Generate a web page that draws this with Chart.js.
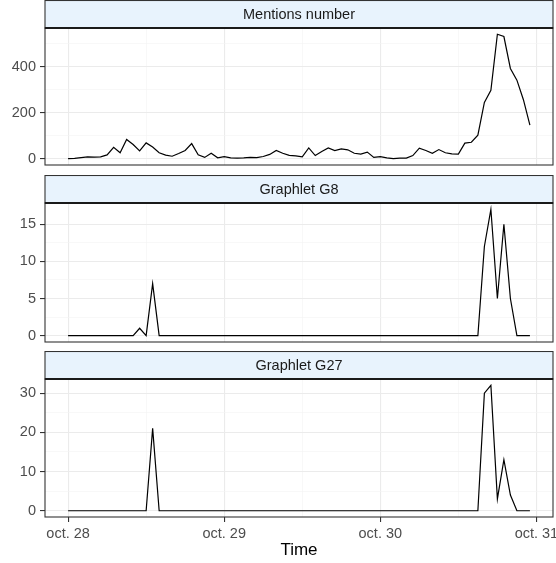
<!DOCTYPE html>
<html>
<head>
<meta charset="utf-8">
<script src="https://cdn.jsdelivr.net/npm/chart.js@4/dist/chart.umd.min.js"></script>
<style>
  html, body { margin: 0; padding: 0; background: #fff; }
  #wrap { position: relative; width: 556px; height: 563px; }
  canvas { position: absolute; left: 0; }
</style>
</head>
<body>
<div id="wrap">
  <canvas id="c1" width="556" height="168" style="top:0px"></canvas>
  <canvas id="c2" width="556" height="169" style="top:175px"></canvas>
  <canvas id="c3" width="556" height="212" style="top:351px"></canvas>
</div>
<script>
// hourly values, starting oct. 28 00:00
const mentions = [1, 2, 5, 8, 7, 8, 17, 50, 26, 84, 62, 34, 69, 51, 26, 16, 11, 23, 36, 66, 17, 6, 24, 4, 9,
  4, 3, 4, 6, 5, 10, 19, 36, 24, 15, 13, 8, 47, 14, 32, 47, 36, 43, 39, 24, 20, 29, 6,
  9, 4, 1, 3, 3, 14, 46, 36, 24, 40, 26, 21, 20, 68, 72, 103, 245, 298, 542, 532, 393, 342, 257, 146];
const graphletG8 = [0, 0, 0, 0, 0, 0, 0, 0, 0, 0, 0, 1, 0, 7, 0, 0, 0, 0, 0, 0, 0, 0, 0, 0,
  0, 0, 0, 0, 0, 0, 0, 0, 0, 0, 0, 0, 0, 0, 0, 0, 0, 0, 0, 0, 0, 0, 0, 0,
  0, 0, 0, 0, 0, 0, 0, 0, 0, 0, 0, 0, 0, 0, 0, 0, 12, 17, 5, 15, 5, 0, 0, 0];
const graphletG27 = [0, 0, 0, 0, 0, 0, 0, 0, 0, 0, 0, 0, 0, 21, 0, 0, 0, 0, 0, 0, 0, 0, 0, 0,
  0, 0, 0, 0, 0, 0, 0, 0, 0, 0, 0, 0, 0, 0, 0, 0, 0, 0, 0, 0, 0, 0, 0, 0,
  0, 0, 0, 0, 0, 0, 0, 0, 0, 0, 0, 0, 0, 0, 0, 0, 30, 32, 3, 13, 4, 0, 0, 0];

const stripTitles = ["Mentions number", "Graphlet G8", "Graphlet G27"];

// x axis in hours since oct. 28
const dayTicks = [0, 24, 48, 72];
const dayLabels = ["oct. 28", "oct. 29", "oct. 30", "oct. 31"];
const halfDayTicks = [12, 36, 60];

const yMajor = [[0, 200, 400], [0, 5, 10, 15], [0, 10, 20, 30]];
const yMinor = [[100, 300, 500], [2.5, 7.5, 12.5], [5, 15, 25]];
const yRange = [[-27.1, 569.1], [-0.85, 17.85], [-1.6, 33.6]];

const FONT = "'Liberation Sans', Arial, sans-serif";

function setTicks(scale, major, minor) {
  const t = major.map(v => ({ value: v, major: true }))
    .concat(minor.map(v => ({ value: v, major: false })));
  t.sort((a, b) => a.value - b.value);
  scale.ticks = t;
}

const stripPlugin = {
  id: 'strip',
  afterDraw(chart, args, opts) {
    const { ctx, chartArea } = chart;
    const l = chartArea.left, r = chartArea.right;
    ctx.save();
    // strip
    ctx.fillStyle = '#E8F3FD';
    ctx.fillRect(l, 0.5, r - l, chartArea.top - 0.5);
    ctx.strokeStyle = '#333333';
    ctx.lineWidth = 1.1;
    ctx.strokeRect(l, 0.5, r - l, chartArea.top - 0.5);
    ctx.fillStyle = '#1A1A1A';
    ctx.font = '14.5px ' + FONT;
    ctx.textAlign = 'center';
    ctx.textBaseline = 'middle';
    ctx.fillText(opts.title, (l + r) / 2, chartArea.top / 2 + 1);
    // panel border
    ctx.strokeStyle = '#333333';
    ctx.lineWidth = 1.1;
    ctx.strokeRect(l, chartArea.top, r - l, chartArea.bottom - chartArea.top);
    ctx.beginPath();
    ctx.lineWidth = 2;
    ctx.strokeStyle = '#1A1A1A';
    ctx.moveTo(l, chartArea.top);
    ctx.lineTo(r, chartArea.top);
    ctx.stroke();
    ctx.restore();
  }
};

function makePanel(id, idx, values, bottom) {
  const pts = values.map((v, i) => ({ x: i, y: v }));
  new Chart(document.getElementById(id), {
    type: 'line',
    data: {
      datasets: [{
        data: pts,
        borderColor: '#000000',
        borderWidth: 1.2,
        pointRadius: 0,
        tension: 0,
        fill: false
      }]
    },
    options: {
      responsive: false,
      animation: false,
      layout: { padding: { top: 28, right: 3, left: 0, bottom: bottom ? 1 : (idx === 0 ? 3 : 2) } },
      plugins: {
        legend: { display: false },
        tooltip: { enabled: false },
        strip: { title: stripTitles[idx] }
      },
      scales: {
        x: {
          type: 'linear',
          min: -3.55,
          max: 74.55,
          afterBuildTicks: s => setTicks(s, dayTicks, halfDayTicks),
          afterFit: s => {
            s.height = bottom ? 45 : 0;
            s.paddingLeft = 0; s.paddingRight = 0;
          },
          border: { display: false },
          grid: {
            color: c => c.tick && c.tick.major ? '#EBEBEB' : '#F4F4F4',
            lineWidth: c => c.tick && c.tick.major ? 1.1 : 0.6,
            drawTicks: bottom,
            tickLength: 5,
            tickColor: c => c.tick && c.tick.major ? '#333333' : 'rgba(0,0,0,0)',
            tickWidth: 1.1
          },
          ticks: {
            display: bottom,
            autoSkip: false,
            maxRotation: 0,
            padding: 3,
            color: '#4D4D4D',
            font: { family: FONT, size: 14.5 },
            callback: v => {
              const k = dayTicks.indexOf(v);
              return k >= 0 ? dayLabels[k] : '';
            }
          },
          title: {
            display: bottom,
            text: 'Time',
            color: '#000000',
            font: { family: FONT, size: 17 },
            padding: { top: 0, bottom: 1 }
          }
        },
        y: {
          type: 'linear',
          min: yRange[idx][0],
          max: yRange[idx][1],
          afterBuildTicks: s => setTicks(s, yMajor[idx], yMinor[idx]),
          afterFit: s => {
            s.width = 45;
            s.paddingTop = 0; s.paddingBottom = 0;
          },
          border: { display: false },
          grid: {
            color: c => c.tick && c.tick.major ? '#EBEBEB' : '#F4F4F4',
            lineWidth: c => c.tick && c.tick.major ? 1.1 : 0.6,
            tickLength: 5,
            tickColor: c => c.tick && c.tick.major ? '#333333' : 'rgba(0,0,0,0)',
            tickWidth: 1.1
          },
          ticks: {
            autoSkip: false,
            padding: 4,
            color: '#4D4D4D',
            font: { family: FONT, size: 14.5 },
            callback: v => yMajor[idx].includes(v) ? String(v) : ''
          }
        }
      }
    },
    plugins: [stripPlugin]
  });
}

makePanel('c1', 0, mentions, false);
makePanel('c2', 1, graphletG8, false);
makePanel('c3', 2, graphletG27, true);
</script>
</body>
</html>
